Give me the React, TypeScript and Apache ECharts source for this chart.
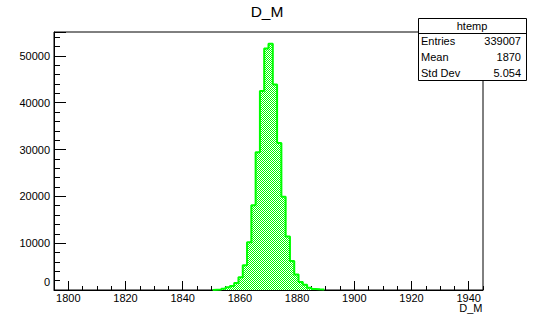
import React, { useEffect, useRef } from "react";
import * as echarts from "echarts";

// Histogram D_M: bins of width 1.5 starting at 1850.5
const binStart = 1850.5;
const binWidth = 1.5;
const counts = [
  60, 90, 250, 570, 860, 1500, 2720, 5290, 10200, 18100, 29400, 42500, 51600,
  52600, 43900, 31400, 19900, 11400, 6200, 3300, 1700, 1100, 500, 200, 150, 120,
];
const xTickLabels = [1800, 1820, 1840, 1860, 1880, 1900, 1920, 1940];
const yTickLabels = [0, 10000, 20000, 30000, 40000, 50000];
const statsLabels = ["Entries", "Mean", "Std Dev"];
const statsValues = ["339007", "1870", "5.054"];
const histName = "htemp";
const title = "D_M";
const xTitle = "D_M";

const FONT = "'Liberation Sans', Arial, Helvetica, sans-serif";

export default function App() {
  const ref = useRef<HTMLDivElement>(null);
  useEffect(() => {
    if (!ref.current) return;
    const chart = echarts.init(ref.current, null, { renderer: "svg" });

    const cv = document.createElement("canvas");
    cv.width = 2;
    cv.height = 2;
    const ctx = cv.getContext("2d")!;
    ctx.fillStyle = "#ffffff";
    ctx.fillRect(0, 0, 2, 2);
    ctx.fillStyle = "#00ff00";
    ctx.fillRect(0, 0, 1, 1);
    ctx.fillRect(1, 1, 1, 1);
    const patternUrl = cv.toDataURL("image/png");

    const stepData: number[][] = [[binStart, 0]];
    counts.forEach((c, i) => stepData.push([binStart + i * binWidth, c]));
    stepData.push([binStart + counts.length * binWidth, 0]);

    const left = 54;
    const width = 429;
    const top = 32;
    const height = 258;
    const xMin = 1795;
    const xMax = 1945;
    const pxPerUnit = width / (xMax - xMin);
    const lx = xTickLabels[0];
    const rx = xTickLabels[xTickLabels.length - 1];

    const textStyle = { fontFamily: FONT, fontSize: 11, fill: "#000" };
    const boxL = 418, boxR = 526, boxT = 18, boxB = 80, headB = 33;
    const rowH = (boxB - headB) / 3;

    const graphics: any[] = [
      {
        type: "text",
        x: 267,
        y: 11,
        style: { text: title, fontFamily: FONT, fontSize: 15.5, fill: "#000", align: "center", verticalAlign: "middle" },
      },
      {
        type: "text",
        x: 482.5,
        y: 308,
        style: { ...textStyle, text: xTitle, align: "right", verticalAlign: "middle" },
      },
      {
        type: "rect",
        shape: { x: boxL + 0.5, y: boxT + 0.5, width: boxR - boxL, height: boxB - boxT },
        style: { fill: "#fff", stroke: "#000", lineWidth: 1 },
        z: 100,
      },
      {
        type: "line",
        shape: { x1: boxL, y1: headB + 0.5, x2: boxR, y2: headB + 0.5 },
        style: { stroke: "#000", lineWidth: 1 },
        z: 101,
      },
      {
        type: "text",
        x: (boxL + boxR) / 2,
        y: (boxT + headB) / 2 + 0.5,
        style: { ...textStyle, text: histName, align: "center", verticalAlign: "middle" },
        z: 101,
      },
    ];
    statsLabels.forEach((lab, i) => {
      const cy = headB + rowH * (i + 0.5) + 0.5;
      graphics.push({
        type: "text", x: boxL + 3, y: cy, z: 101,
        style: { ...textStyle, text: lab, align: "left", verticalAlign: "middle" },
      });
      graphics.push({
        type: "text", x: boxR - 5, y: cy, z: 101,
        style: { ...textStyle, text: statsValues[i], align: "right", verticalAlign: "middle" },
      });
    });

    const option: any = {
      animation: false,
      backgroundColor: "#fff",
      grid: [
        { left, top, width, height, show: true, borderColor: "#000", borderWidth: 1, backgroundColor: "transparent" },
        { left: left + (lx - xMin) * pxPerUnit, top, width: (rx - lx) * pxPerUnit, height },
      ],
      xAxis: [
        {
          type: "value", gridIndex: 0, min: xMin, max: xMax, interval: 5,
          axisLine: { show: true, onZero: false, lineStyle: { color: "#000", width: 1 } },
          axisTick: { show: true, inside: true, length: 4, lineStyle: { color: "#000" } },
          axisLabel: { show: false },
          splitLine: { show: false },
        },
        {
          type: "value", gridIndex: 1, min: lx, max: rx, interval: 20,
          axisLine: { show: false },
          axisTick: { show: true, inside: true, length: 9, lineStyle: { color: "#000" } },
          axisLabel: {
            show: true, margin: 2, color: "#000", fontFamily: FONT, fontSize: 11,
            formatter: (v: number) => (xTickLabels.includes(v) ? String(v) : ""),
          },
          splitLine: { show: false },
        },
      ],
      yAxis: [
        {
          type: "value", gridIndex: 0, min: 0, max: 55100, interval: 10000,
          axisLine: { show: true, lineStyle: { color: "#000", width: 1 } },
          axisTick: { show: true, inside: true, length: 12, lineStyle: { color: "#000" } },
          minorTick: { show: true, splitNumber: 5, length: 6, lineStyle: { color: "#000" } },
          axisLabel: {
            show: true, margin: 4, color: "#000", fontFamily: FONT, fontSize: 11,
            formatter: (v: number) => {
              if (!yTickLabels.includes(v)) return "";
              return v === 0 ? "{z|0}" : String(v);
            },
            rich: { z: { fontFamily: FONT, fontSize: 11, color: "#000", padding: [0, 0, 17, 0] } },
          },
          splitLine: { show: false },
        },
        {
          type: "value", gridIndex: 1, min: 0, max: 55100, show: false,
        },
      ],
      series: [
        {
          type: "line",
          xAxisIndex: 0,
          yAxisIndex: 0,
          step: "end",
          data: stepData,
          symbol: "none",
          lineStyle: { color: "#00ff00", width: 2 },
          areaStyle: {
            origin: "start",
            opacity: 1,
            color: { image: patternUrl, repeat: "repeat", imageWidth: 2, imageHeight: 2 },
          },
          z: 3,
        },
      ],
      graphic: graphics,
    };
    chart.setOption(option);
    return () => chart.dispose();
  }, []);
  return (
    <div
      ref={ref}
      style={{ position: "absolute", left: 0, top: 0, width: 536, height: 323, background: "#fff" }}
    />
  );
}
